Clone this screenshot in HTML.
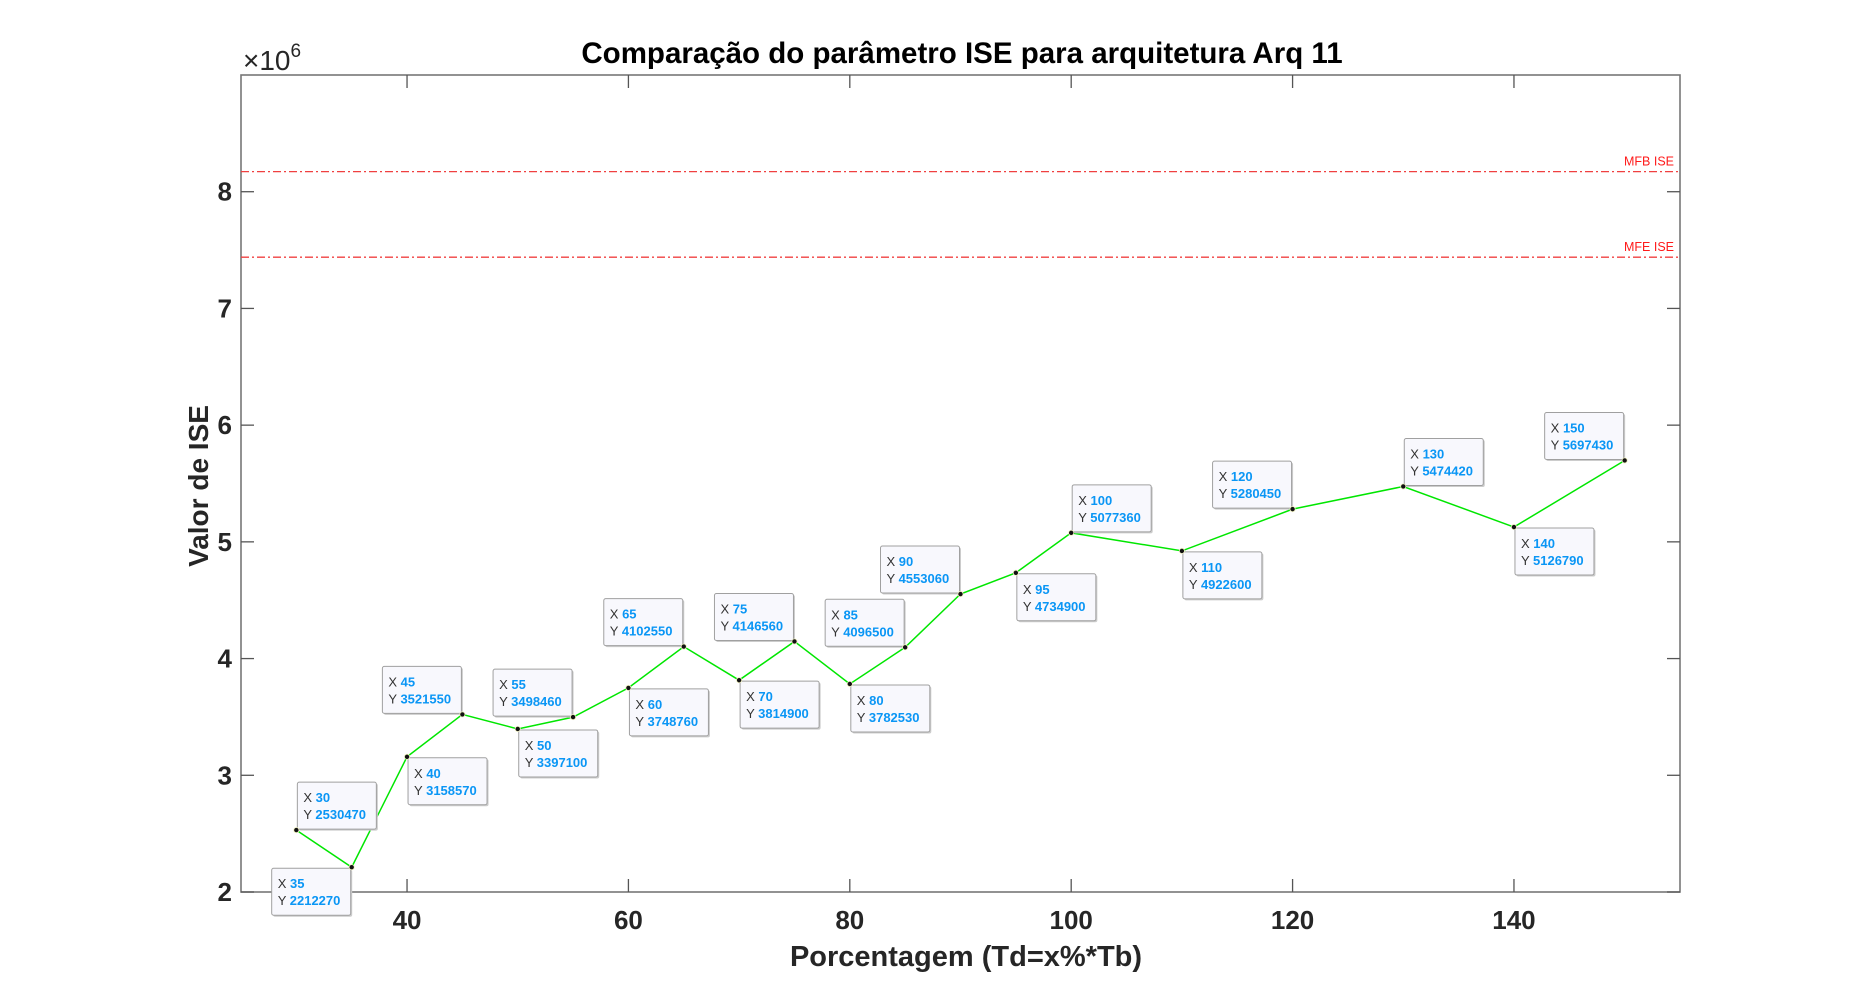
<!DOCTYPE html>
<html><head><meta charset="utf-8"><style>
html,body{margin:0;padding:0;background:#fff;}
svg{display:block;font-family:"Liberation Sans",Arial,sans-serif;}
</style></head><body>
<svg id="chart" width="1858" height="1003" viewBox="0 0 1858 1003">
<rect x="0" y="0" width="1858" height="1003" fill="#fff"/>
<g id="plot"></g>
</svg>
<script>
const xs = [30,35,40,45,50,55,60,65,70,75,80,85,90,95,100,110,120,130,140,150];
const ys = [2530470,2212270,3158570,3521550,3397100,3498460,3748760,4102550,3814900,4146560,3782530,4096500,4553060,4734900,5077360,4922600,5280450,5474420,5126790,5697430];
const tipDir = ['ur','dl','dr','ul','dr','ul','dr','ul','dr','ul','dr','ul','ul','dr','ur','dr','ul','ur','dr','ul'];
const xTicks = [40,60,80,100,120,140];
const yTicks = [2,3,4,5,6,7,8];
const refNames = ['MFB ISE','MFE ISE'];
const refValues = [8172000,7439000];

const L=241,R=1680,T=75,B=892,X0=25,X1=155,Y0=2e6,Y1=9e6;
const sx=v=>L+(v-X0)/(X1-X0)*(R-L);
const sy=v=>B-(v-Y0)/(Y1-Y0)*(B-T);
const NS='http://www.w3.org/2000/svg';
const g=document.getElementById('plot');
function mk(tag,attrs,parent){const e=document.createElementNS(NS,tag);for(const k in attrs)e.setAttribute(k,attrs[k]);(parent||g).appendChild(e);return e;}

const box=mk('rect',{x:L,y:T,width:R-L,height:B-T,fill:'none',stroke:'#777','stroke-width':1.6});



xTicks.forEach(t=>{
  const x=sx(t);
  const a=mk('line',{x1:x,y1:B,x2:x,y2:B-13,stroke:'#555','stroke-width':1.3});
  
  
  const b=mk('line',{x1:x,y1:T,x2:x,y2:T+13,stroke:'#555','stroke-width':1.3});
  
  
  const tx=mk('text',{x:x,y:929,'text-anchor':'middle','font-size':26,'font-weight':'bold',fill:'#262626'});
  tx.textContent=t;
  
  
});
yTicks.forEach(t=>{
  const y=sy(t*1e6);
  const a=mk('line',{x1:L,y1:y,x2:L+13,y2:y,stroke:'#555','stroke-width':1.3});
  
  
  const b=mk('line',{x1:R,y1:y,x2:R-13,y2:y,stroke:'#555','stroke-width':1.3});
  
  
  const tx=mk('text',{x:232,y:y+9,'text-anchor':'end','font-size':26,'font-weight':'bold',fill:'#262626'});
  tx.textContent=t;
  
  
});

refValues.forEach((v,i)=>{
  const y=sy(v);
  const l=mk('line',{x1:L,y1:y,x2:R,y2:y,stroke:'#f04040','stroke-width':1.3,'stroke-dasharray':'8 3 2 3'});
  
  
  const t=mk('text',{x:R-6,y:y-6,'text-anchor':'end','font-size':12.5,fill:'#ff1a1a'});
  t.textContent=refNames[i];
  
  
});

const pl=mk('polyline',{points:xs.map((x,i)=>sx(x)+','+sy(ys[i])).join(' '),fill:'none',stroke:'#00e600','stroke-width':1.5});



const BW=79,BH=47;
xs.forEach((x,i)=>{
  const px=sx(x),py=sy(ys[i]);
  const d=tipDir[i];
  const bx=d[1]==='r'?px+1:px-1-BW;
  const by=d[0]==='u'?py-1-BH:py+1;
  const tg=mk('g',{});
  
  
  mk('rect',{x:bx+1.5,y:by+1.5,width:BW,height:BH,rx:2,fill:'#ccc'},tg);
  mk('rect',{x:bx,y:by,width:BW,height:BH,rx:2,fill:'#f8f8fd',stroke:'#a0a0a0','stroke-width':1},tg);
  const t1=mk('text',{x:bx+6,y:by+20,'font-size':13,fill:'#333'},tg);
  t1.innerHTML='X <tspan fill="#0a96f5" font-weight="bold">'+x+'</tspan>';
  const t2=mk('text',{x:bx+6,y:by+37,'font-size':13,fill:'#333'},tg);
  t2.innerHTML='Y <tspan fill="#0a96f5" font-weight="bold">'+ys[i]+'</tspan>';
  const c=mk('circle',{cx:px,cy:py,r:2.6,fill:'#111',stroke:'#f0f0c0','stroke-width':0.8});
  
  
});

const title=mk('text',{x:962,y:63,'text-anchor':'middle','font-size':29.5,'font-weight':'bold',fill:'#000'});
title.textContent='Comparação do parâmetro ISE para arquitetura Arq 11';


const xl=mk('text',{x:966,y:966,'text-anchor':'middle','font-size':29,'font-weight':'bold',fill:'#262626'});
xl.textContent='Porcentagem (Td=x%*Tb)';


const yl=mk('text',{x:0,y:0,'text-anchor':'middle','font-size':28,'font-weight':'bold',fill:'#262626',transform:'translate(208,486) rotate(-90)'});
yl.textContent='Valor de ISE';


const ex=mk('text',{x:243,y:70,'font-size':28,fill:'#262626'});
ex.innerHTML='×10<tspan dy="-13" font-size="19">6</tspan>';


</script>
</body></html>
